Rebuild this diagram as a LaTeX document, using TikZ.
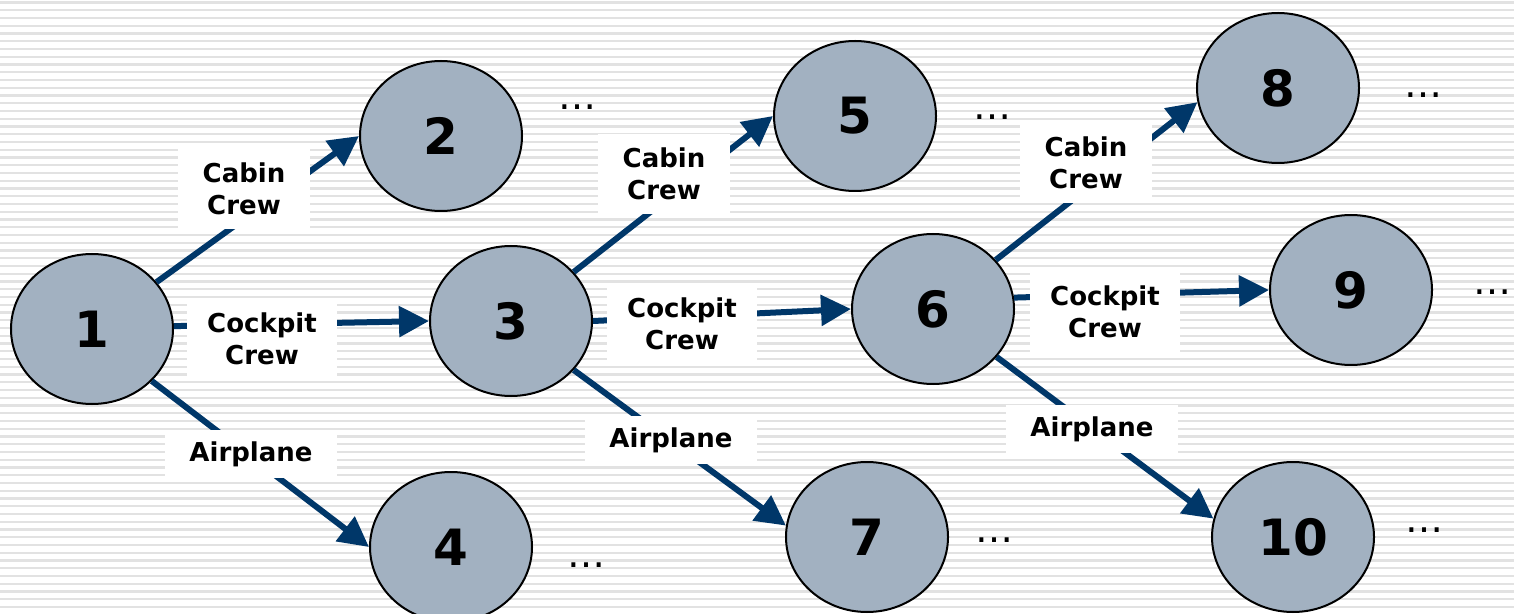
\documentclass[tikz,border=0pt]{standalone}
\usepackage{fontspec}
\setmainfont{DejaVu Sans}
\usepackage{xcolor}
\usepackage{tikz}
\usetikzlibrary{arrows.meta,shapes.geometric}

\definecolor{nodefill}{RGB}{162,177,193}
\definecolor{navy}{RGB}{0,55,105}
\definecolor{stripe}{RGB}{226,226,226}

\begin{document}
\begin{tikzpicture}[x=0.5pt,y=-0.5pt,
  state/.style={draw=black,line width=1pt,fill=nodefill,ellipse,minimum width=81pt,minimum height=75pt,inner sep=0pt,font=\fontsize{25}{25}\selectfont\bfseries},
  move/.style={-{Triangle[length=15pt,width=15pt]},line width=3pt,navy},
  lbl/.style={fill=white,align=center,inner sep=0pt,minimum height=40pt,font=\fontsize{13}{16}\selectfont\bfseries},
  cabin/.style={lbl,minimum width=66pt},
  cockpit/.style={lbl,minimum width=75pt},
  air/.style={lbl,minimum width=86pt,minimum height=24pt},
  more/.style={font=\fontsize{19}{19}\selectfont}]
  \useasboundingbox (0,0) rectangle (1514,614);
  % striped background
  \fill[white] (0,0) rectangle (1514,614);
  \foreach \k in {0,...,78}
    \draw[stripe,line width=1.1pt] (0,2.5+7.75*\k) -- (1514,2.5+7.75*\k);
  % states
  \node[state] (n1) at (92,329) {1};
  \node[state] (n2) at (441,136) {2};
  \node[state] (n3) at (511,321) {3};
  \node[state] (n4) at (451,547) {4};
  \node[state] (n5) at (855,116) {5};
  \node[state] (n6) at (933,309) {6};
  \node[state] (n7) at (867,537) {7};
  \node[state] (n8) at (1278,88) {8};
  \node[state] (n9) at (1351,290) {9};
  \node[state] (n10) at (1293,537) {10};
  % continuation dots
  \node[more] (d2) at (577,107) {…};
  \node[more] (d4) at (586,565) {…};
  \node[more] (d5) at (992,117) {…};
  \node[more] (d7) at (994,540) {…};
  \node[more] (d8) at (1423,95) {…};
  \node[more] (d9) at (1492,292) {…};
  \node[more] (d10) at (1424,530) {…};
  % moves
  \draw[move] (n1.36) -- (n2.west);
  \draw[move] (n1.2) -- (n3.west);
  \draw[move] (n1.-41) -- (n4.west);
  \draw[move] (n3.38) -- (n5.west);
  \draw[move] (n3.east) -- (n6.west);
  \draw[move] (n3.-38) -- (n7.172);
  \draw[move] (n6.38) -- (n8.190);
  \draw[move] (n6.8) -- (n9.west);
  \draw[move] (n6.-37) -- (n10.167);
  % labels on the moves
  \node[cabin] (c12) at (244,189) {Cabin\\Crew};
  \node[cockpit] (k13) at (262,339) {Cockpit\\Crew};
  \node[air] (a14) at (251,454) {Airplane};
  \node[cabin] (c35) at (664,174) {Cabin\\Crew};
  \node[cockpit] (k36) at (682,324) {Cockpit\\Crew};
  \node[air] (a37) at (671,440) {Airplane};
  \node[cabin] (c68) at (1086,163) {Cabin\\Crew};
  \node[cockpit] (k69) at (1105,312) {Cockpit\\Crew};
  \node[air] (a610) at (1092,429) {Airplane};
\end{tikzpicture}
\end{document}
